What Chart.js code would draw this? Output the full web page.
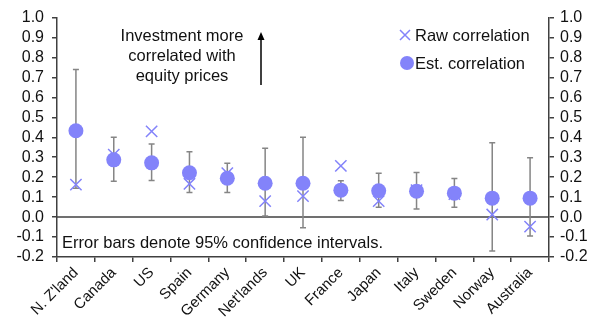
<!DOCTYPE html>
<html>
<head>
<meta charset="utf-8">
<script src="https://cdn.jsdelivr.net/npm/chart.js@4"></script>
<style>
  html, body { margin: 0; padding: 0; background: #fff; }
  #wrap { width: 598px; height: 324px; }
</style>
</head>
<body>
<div id="wrap"><canvas id="myC" width="598" height="324"></canvas></div>
<script>
const countries = ['N. Z\'land', 'Canada', 'US', 'Spain', 'Germany', 'Net\'lands', 'UK', 'France', 'Japan', 'Italy', 'Sweden', 'Norway', 'Australia'];
const estCorr = [0.433, 0.287, 0.272, 0.222, 0.195, 0.17, 0.17, 0.135, 0.132, 0.13, 0.12, 0.095, 0.095];
const rawCorr = [0.163, 0.313, 0.43, 0.167, 0.22, 0.08, 0.105, 0.257, 0.08, 0.135, 0.115, 0.013, -0.048];
const errHigh = [0.74, 0.40, 0.367, 0.327, 0.27, 0.345, 0.40, 0.182, 0.22, 0.223, 0.193, 0.373, 0.297];
const errLow = [0.145, 0.18, 0.183, 0.123, 0.123, 0.005, -0.053, 0.083, 0.05, 0.04, 0.05, -0.17, -0.095];
const yTicks = [-0.2, -0.1, 0.0, 0.1, 0.2, 0.3, 0.4, 0.5, 0.6, 0.7, 0.8, 0.9, 1.0];

const purple = '#8383fa';
const axisCol = '#404040';
const font = { family: 'Liberation Sans, Arial, sans-serif', size: 16 };

const extras = {
  id: 'extras',
  beforeDatasetsDraw(chart) {
    const { ctx, chartArea, scales } = chart;
    const x = scales.x, y = scales.y;
    ctx.save();
    // zero line
    ctx.strokeStyle = axisCol;
    ctx.lineWidth = 1.5;
    ctx.beginPath();
    ctx.moveTo(chartArea.left, y.getPixelForValue(0));
    ctx.lineTo(chartArea.right, y.getPixelForValue(0));
    ctx.stroke();
    // error bars
    ctx.strokeStyle = '#858585';
    ctx.lineWidth = 1.5;
    countries.forEach((c, i) => {
      const px = x.getPixelForValue(i);
      const top = y.getPixelForValue(errHigh[i]);
      const bot = y.getPixelForValue(errLow[i]);
      ctx.beginPath();
      ctx.moveTo(px, top); ctx.lineTo(px, bot);
      ctx.moveTo(px - 3, top); ctx.lineTo(px + 3, top);
      ctx.moveTo(px - 3, bot); ctx.lineTo(px + 3, bot);
      ctx.stroke();
    });
    ctx.restore();
  },
  afterDraw(chart) {
    const { ctx } = chart;
    ctx.save();
    ctx.fillStyle = '#111';
    ctx.font = '16.5px "Liberation Sans", Arial, sans-serif';
    ctx.textBaseline = 'middle';
    ctx.textAlign = 'center';
    ctx.fillText('Investment more', 182, 36);
    ctx.fillText('correlated with', 182, 56);
    ctx.fillText('equity prices', 182, 76);
    // arrow
    ctx.strokeStyle = '#000';
    ctx.fillStyle = '#000';
    ctx.lineWidth = 1.5;
    ctx.beginPath();
    ctx.moveTo(261, 85); ctx.lineTo(261, 38);
    ctx.stroke();
    ctx.beginPath();
    ctx.moveTo(261, 32); ctx.lineTo(257.5, 40); ctx.lineTo(264.5, 40);
    ctx.closePath(); ctx.fill();
    // note
    ctx.fillStyle = '#111';
    ctx.textAlign = 'left';
    ctx.fillText('Error bars denote 95% confidence intervals.', 62, 243);
    // legend
    ctx.fillText('Raw correlation', 415, 36);
    ctx.fillText('Est. correlation', 415, 64);
    ctx.strokeStyle = purple;
    ctx.lineWidth = 1.5;
    ctx.beginPath();
    ctx.moveTo(400, 30); ctx.lineTo(410, 40);
    ctx.moveTo(410, 30); ctx.lineTo(400, 40);
    ctx.stroke();
    ctx.fillStyle = purple;
    ctx.beginPath();
    ctx.arc(407, 63, 7, 0, Math.PI * 2);
    ctx.fill();
    ctx.restore();
  }
};

const gridOpts = { display: true, drawOnChartArea: false, drawTicks: true, tickLength: 5, color: axisCol, lineWidth: 1.5 };

new Chart(document.querySelector('#myC').getContext('2d'), {
  type: 'line',
  data: {
    labels: countries,
    datasets: [{
      label: 'Raw correlation',
      data: rawCorr,
      showLine: false,
      pointStyle: 'crossRot',
      pointRadius: 8,
      borderWidth: 1.5,
      pointBorderWidth: 1.5,
      borderColor: purple,
      backgroundColor: purple,
      order: 2
    }, {
      label: 'Est. correlation',
      data: estCorr,
      showLine: false,
      pointStyle: 'circle',
      pointRadius: 7.5,
      pointBorderWidth: 0,
      borderColor: purple,
      backgroundColor: purple,
      order: 1
    }]
  },
  options: {
    responsive: false,
    animation: false,
    layout: { padding: { top: 15, left: 0, right: 0, bottom: 0 } },
    plugins: { legend: { display: false }, tooltip: { enabled: false } },
    scales: {
      x: {
        type: 'category',
        offset: true,
        grid: { ...gridOpts, offset: true },
        border: { display: true, color: axisCol, width: 1.5 },
        ticks: { color: '#111', font: { ...font, size: 15 }, minRotation: 45, maxRotation: 45, padding: 2, autoSkip: false },
        afterFit(s) { s.height = 67; }
      },
      y: {
        position: 'left',
        min: -0.2, max: 1.0,
        grid: gridOpts,
        border: { display: true, color: axisCol, width: 1.5 },
        afterBuildTicks(s) { s.ticks = yTicks.map(v => ({ value: v })); },
        ticks: { color: '#111', font, padding: 8, autoSkip: false, callback: v => v.toFixed(1) },
        afterFit(s) { s.width = 57; }
      },
      y2: {
        position: 'right',
        min: -0.2, max: 1.0,
        grid: gridOpts,
        border: { display: true, color: axisCol, width: 1.5 },
        afterBuildTicks(s) { s.ticks = yTicks.map(v => ({ value: v })); },
        ticks: { color: '#111', font, padding: 6, autoSkip: false, callback: v => v.toFixed(1) },
        afterFit(s) { s.width = 49; }
      }
    }
  },
  plugins: [extras]
});
</script>
</body>
</html>
